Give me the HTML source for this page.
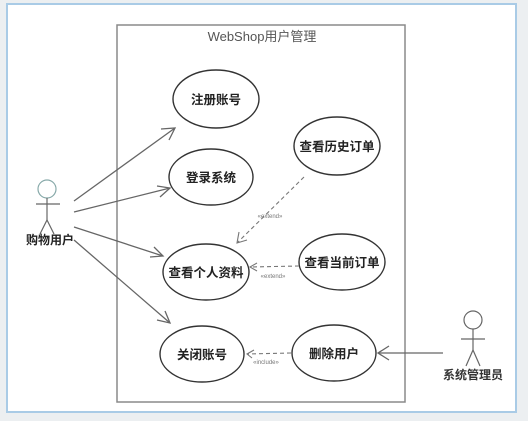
<!DOCTYPE html>
<html><head><meta charset="utf-8"><style>
html,body{margin:0;padding:0;background:#eceff1;}
svg{display:block;font-family:"Liberation Sans","Noto Sans CJK SC",sans-serif;}
</style></head><body>
<svg width="528" height="421" viewBox="0 0 528 421">
<rect x="0" y="0" width="528" height="421" fill="#eceff1"/>
<rect x="7" y="4" width="509" height="408" fill="#fff" stroke="#a9cbe6" stroke-width="2"/>
<rect x="117" y="25" width="288" height="377" fill="#fff" stroke="#8a8a8a" stroke-width="1.5"/>
<text x="262" y="41" text-anchor="middle" font-size="13" fill="#555">WebShop用户管理</text>
<g fill="#fff" stroke="#333" stroke-width="1.4">
<ellipse cx="216" cy="99" rx="43" ry="29"/>
<ellipse cx="211" cy="177" rx="42" ry="28"/>
<ellipse cx="337" cy="146" rx="43" ry="29"/>
<ellipse cx="206" cy="272" rx="43" ry="28"/>
<ellipse cx="342" cy="262" rx="43" ry="28"/>
<ellipse cx="202" cy="354" rx="42" ry="28"/>
<ellipse cx="334" cy="353" rx="42" ry="28"/>
</g>
<g font-size="12.5" font-weight="bold" fill="#222" text-anchor="middle">
<text x="216" y="104">注册账号</text>
<text x="211" y="182">登录系统</text>
<text x="337" y="151">查看历史订单</text>
<text x="206" y="277">查看个人资料</text>
<text x="342" y="267">查看当前订单</text>
<text x="202" y="359">关闭账号</text>
<text x="334" y="358">删除用户</text>
</g>
<g stroke="#666" stroke-width="1.3" fill="none">
<line x1="74" y1="201" x2="175" y2="128"/><polyline points="161,129 175,128 169,140"/>
<line x1="74" y1="212" x2="170" y2="188"/><polyline points="157,186 170,188 160,197"/>
<line x1="74" y1="227" x2="163" y2="256"/><polyline points="154,247 163,256 150,257"/>
<line x1="74" y1="240" x2="170" y2="323"/><polyline points="165,311 170,323 157,320"/>
<line x1="443" y1="353" x2="378" y2="353"/><polyline points="389,346 378,353 389,360"/>
</g>
<g stroke="#777" stroke-width="1.1" fill="none">
<line x1="304" y1="177" x2="237" y2="243" stroke-dasharray="4,3"/><polyline points="239,232 237,243 247,240"/>
<line x1="299" y1="266" x2="250" y2="267" stroke-dasharray="4,3"/><polyline points="257,263 250,267 257,271"/>
<line x1="291" y1="353" x2="247" y2="354" stroke-dasharray="4,3"/><polyline points="254,350 247,354 252,358"/>
</g>
<g font-size="6" fill="#777" text-anchor="middle">
<text x="270" y="218">«extend»</text>
<text x="273" y="278">«extend»</text>
<text x="266" y="364">«include»</text>
</g>
<g stroke="#666" stroke-width="1.2" fill="none">
<circle cx="47" cy="189" r="9" stroke="#8aa"/>
<line x1="47" y1="198" x2="47" y2="220"/><line x1="36" y1="204" x2="60" y2="204"/>
<polyline points="40,234 47,220 54,234"/>
<circle cx="473" cy="320" r="9"/>
<line x1="473" y1="329" x2="473" y2="350"/><line x1="461" y1="339" x2="485" y2="339"/>
<polyline points="466,366 473,350 480,366"/>
</g>
<text x="50" y="244" font-size="12" font-weight="bold" fill="#222" text-anchor="middle">购物用户</text>
<text x="473" y="379" font-size="12" font-weight="bold" fill="#333" text-anchor="middle">系统管理员</text>
</svg>
</body></html>
